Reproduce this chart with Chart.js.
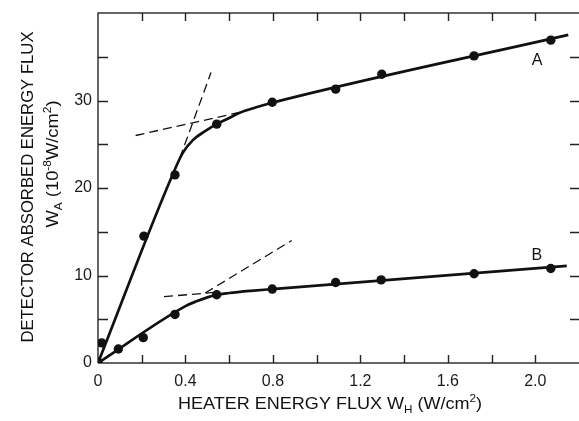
<!DOCTYPE html>
<html><head><meta charset="utf-8">
<script src="https://cdn.jsdelivr.net/npm/chart.js@4"></script>
<style>html,body{margin:0;padding:0;background:#fff;overflow:hidden}#wrap{width:579px;height:421px;position:relative}</style>
</head><body><div id="wrap"><canvas id="c"></canvas></div>
<script>
// ---- data ----
const aX = [0.017, 0.21, 0.352, 0.543, 0.797, 1.087, 1.298, 1.72, 2.071];
const aY = [2.3, 14.5, 21.5, 27.3, 29.8, 31.3, 33.0, 35.1, 36.9];
const bX = [0, 0.093, 0.207, 0.352, 0.543, 0.797, 1.087, 1.295, 1.72, 2.071];
const bY = [0.1, 1.6, 2.9, 5.55, 7.8, 8.45, 9.2, 9.5, 10.2, 10.8];
// hand-drawn fitted curves
const aCurveX = [0, 0.36, 0.39, 0.435, 0.49, 0.542, 0.6, 0.648, 0.72, 0.797, 2.151];
const aCurveY = [0, 22.6, 24.1, 25.5, 26.5, 27.3, 28.0, 28.6, 29.2, 29.75, 37.5];
const bCurveX = [0, 0.40, 0.45, 0.50, 0.542, 0.60, 0.70, 0.797, 2.144];
const bCurveY = [0, 6.5, 7.05, 7.5, 7.8, 8.0, 8.25, 8.45, 11.1];
// dashed tangent lines
const aSteepX = [0.374, 0.517], aSteepY = [23.4, 33.2];
const aFlatX = [0.172, 0.64], aFlatY = [26.0, 28.6];
const bSteepX = [0.49, 0.886], bSteepY = [8.0, 14.0];
const bFlatX = [0.302, 0.55], bFlatY = [7.58, 8.1];
// axes
const xTickValues = [0, 0.2, 0.4, 0.6, 0.8, 1.0, 1.2, 1.4, 1.6, 1.8, 2.0, 2.2];
const xTickLabels = ['0', '', '0.4', '', '0.8', '', '1.2', '', '1.6', '', '2.0', ''];
const yTickValues = [0, 5, 10, 15, 20, 25, 30, 35, 40];
const yTickLabels = ['0', '', '10', '', '20', '', '30', '', ''];
const curveNames = ['A', 'B'];
const curveLabelX = [2.008, 2.007], curveLabelY = [34.6, 12.3];

const FONT = "'Liberation Sans', Arial, sans-serif";
const pts = (xs, ys) => xs.map((x, i) => ({x, y: ys[i]}));
const INK = '#111';

function lineDs(xs, ys, dashed, interp) {
  return {data: pts(xs, ys), showLine: true, pointRadius: 0, borderColor: INK,
    borderWidth: dashed ? 1.3 : 2.7, borderDash: dashed ? [9, 5] : [],
    cubicInterpolationMode: interp ? 'monotone' : 'default', tension: 0, fill: false};
}
function dotDs(xs, ys) {
  return {data: pts(xs, ys), showLine: false, pointRadius: 4.7, pointHoverRadius: 4.7,
    backgroundColor: INK, borderColor: INK, borderWidth: 0};
}

function drawRich(ctx, segs, cx, cy, angle, width, size) {
  ctx.save();
  ctx.translate(cx, cy); ctx.rotate(angle);
  const small = Math.round(size * 0.66);
  let total = 0;
  const ws = segs.map(s => { ctx.font = (s.k === 'n' ? size : small) + 'px ' + FONT; const w = ctx.measureText(s.t).width; total += w; return w; });
  ctx.scale(width / total, 1);
  let x = -total / 2;
  const base = size * 0.36;
  ctx.fillStyle = INK; ctx.textBaseline = 'alphabetic'; ctx.textAlign = 'left';
  segs.forEach((s, i) => {
    ctx.font = (s.k === 'n' ? size : small) + 'px ' + FONT;
    const dy = s.k === 'sub' ? size * 0.22 : s.k === 'sup' ? -size * 0.42 : 0;
    ctx.fillText(s.t, x, base + dy);
    x += ws[i];
  });
  ctx.restore();
}

const decor = {
  id: 'decor',
  beforeDatasetsDraw(chart) {
    const {ctx, chartArea: ca, scales: {x, y}} = chart;
    ctx.save();
    ctx.strokeStyle = '#333'; ctx.lineWidth = 1.5;
    ctx.beginPath();
    ctx.moveTo(ca.left, ca.bottom); ctx.lineTo(ca.left, ca.top); ctx.lineTo(ca.right + 2, ca.top);
    ctx.moveTo(ca.left, ca.bottom); ctx.lineTo(ca.right + 2, ca.bottom);
    ctx.stroke();
    ctx.lineWidth = 1.4; ctx.strokeStyle = '#222';
    ctx.beginPath();
    xTickValues.forEach(v => {
      if (v <= 0 || v >= 2.2) return;
      const px = Math.round(x.getPixelForValue(v)) + 0.5;
      ctx.moveTo(px, ca.bottom); ctx.lineTo(px, ca.bottom - 8);
      ctx.moveTo(px, ca.top); ctx.lineTo(px, ca.top + 8);
    });
    yTickValues.forEach(v => {
      if (v <= 0 || v >= 40) return;
      const py = Math.round(y.getPixelForValue(v)) + 0.5;
      ctx.moveTo(ca.left, py); ctx.lineTo(ca.left + 10, py);
      ctx.moveTo(ca.right, py); ctx.lineTo(ca.right - 9, py);
    });
    ctx.stroke();
    ctx.restore();
  },
  afterDraw(chart) {
    const {ctx, scales: {x, y}} = chart;
    ctx.save();
    ctx.fillStyle = INK; ctx.font = '16px ' + FONT; ctx.textAlign = 'center'; ctx.textBaseline = 'middle';
    curveNames.forEach((n, i) => ctx.fillText(n, x.getPixelForValue(curveLabelX[i]), y.getPixelForValue(curveLabelY[i])));
    ctx.restore();
    drawRich(ctx, [{t: 'DETECTOR ABSORBED ENERGY FLUX', k: 'n'}], 27, 187, -Math.PI / 2, 311, 17);
    drawRich(ctx, [{t: 'W', k: 'n'}, {t: 'A', k: 'sub'}, {t: ' (10', k: 'n'}, {t: '-8', k: 'sup'}, {t: 'W/cm', k: 'n'}, {t: '2', k: 'sup'}, {t: ')', k: 'n'}], 52, 164, -Math.PI / 2, 127, 17);
    drawRich(ctx, [{t: 'HEATER ENERGY FLUX W', k: 'n'}, {t: 'H', k: 'sub'}, {t: ' (W/cm', k: 'n'}, {t: '2', k: 'sup'}, {t: ')', k: 'n'}], 330, 403, 0, 304, 17);
  }
};

new Chart(document.getElementById('c'), {
  type: 'scatter',
  data: {datasets: [
    lineDs(aCurveX, aCurveY, false, true),
    lineDs(bCurveX, bCurveY, false, true),
    lineDs(aSteepX, aSteepY, true, false),
    lineDs(aFlatX, aFlatY, true, false),
    lineDs(bSteepX, bSteepY, true, false),
    lineDs(bFlatX, bFlatY, true, false),
    dotDs(aX, aY),
    dotDs(bX, bY)
  ]},
  options: {
    responsive: true, maintainAspectRatio: false, animation: false,
    layout: {autoPadding: false, padding: {top: 13, right: 0, left: 0, bottom: 0}},
    plugins: {legend: {display: false}, tooltip: {enabled: false}},
    events: [],
    scales: {
      x: {type: 'linear', min: 0, max: 2.2,
        afterBuildTicks: s => { s.ticks = xTickValues.map(v => ({value: v})); },
        afterFit: s => { s.height = 58; s.paddingLeft = 0; s.paddingRight = 0; },
        grid: {display: false, drawTicks: false}, border: {display: false},
        ticks: {autoSkip: false, maxRotation: 0, padding: 9, color: '#1a1a1a', font: {family: FONT, size: 16},
          callback: (v, i) => xTickLabels[i]}},
      y: {type: 'linear', min: 0, max: 40,
        afterBuildTicks: s => { s.ticks = yTickValues.map(v => ({value: v})); },
        afterFit: s => { s.width = 98; s.paddingTop = 0; s.paddingBottom = 0; },
        grid: {display: false, drawTicks: false}, border: {display: false},
        ticks: {autoSkip: false, padding: 6, color: '#1a1a1a', font: {family: FONT, size: 16},
          callback: (v, i) => yTickLabels[i]}}
    }
  },
  plugins: [decor]
});
</script></body></html>
